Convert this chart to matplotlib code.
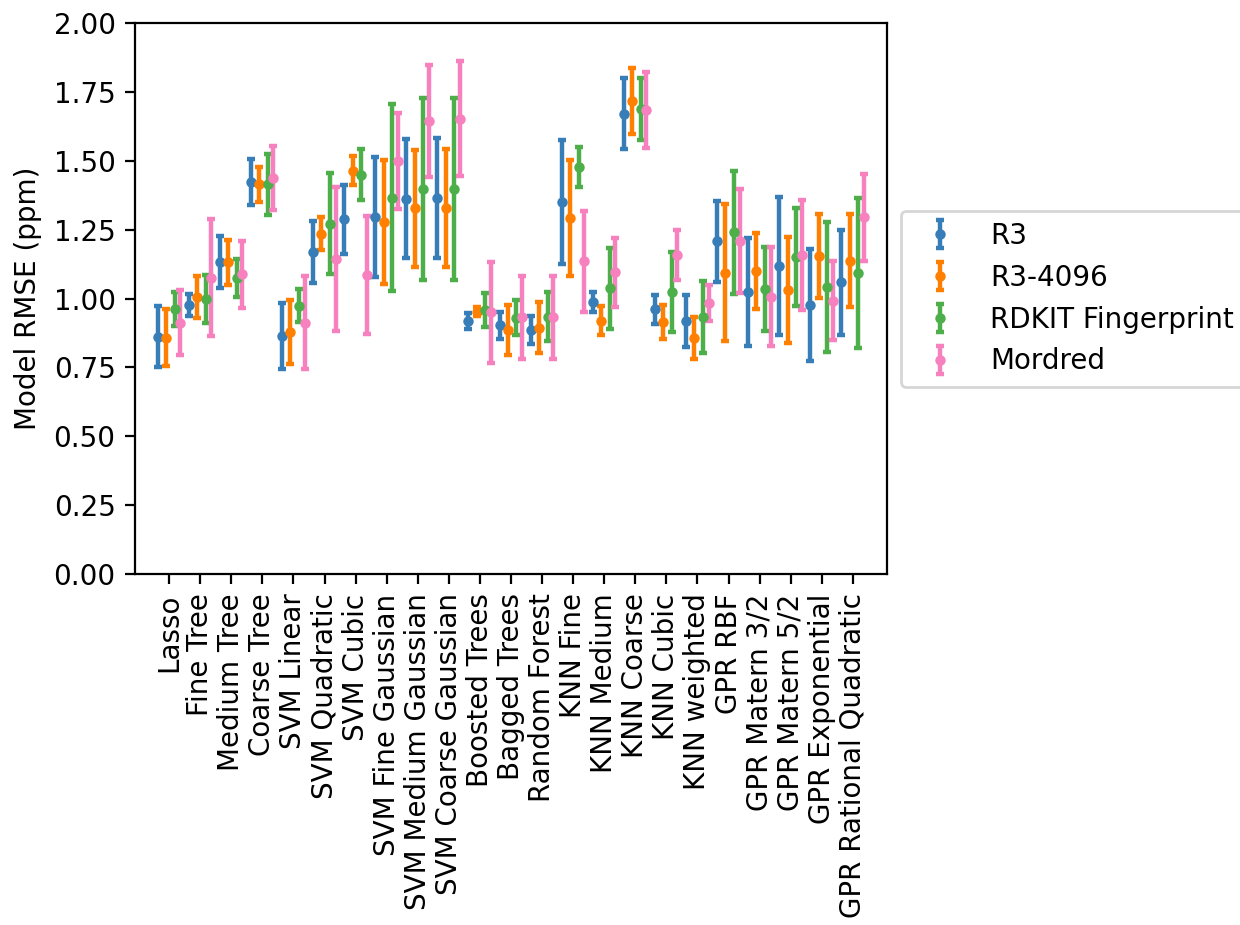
import matplotlib
matplotlib.use("Agg")
import matplotlib.pyplot as plt
import numpy as np

categories = ["Lasso", "Fine Tree", "Medium Tree", "Coarse Tree", "SVM Linear",
              "SVM Quadratic", "SVM Cubic", "SVM Fine Gaussian", "SVM Medium Gaussian",
              "SVM Coarse Gaussian", "Boosted Trees", "Bagged Trees", "Random Forest",
              "KNN Fine", "KNN Medium", "KNN Coarse", "KNN Cubic", "KNN weighted",
              "GPR RBF", "GPR Matern 3/2", "GPR Matern 5/2", "GPR Exponential",
              "GPR Rational Quadratic"]

series_names = ["R3", "R3-4096", "RDKIT Fingerprint", "Mordred"]

r3_mean = [0.862, 0.977, 1.132, 1.424, 0.864, 1.169, 1.288, 1.295, 1.363, 1.366,
           0.919, 0.903, 0.886, 1.350, 0.988, 1.672, 0.961, 0.920, 1.208, 1.024,
           1.119, 0.977, 1.059]
r3_err = [0.110, 0.039, 0.095, 0.083, 0.121, 0.112, 0.125, 0.218, 0.215, 0.217,
          0.030, 0.050, 0.052, 0.225, 0.035, 0.130, 0.053, 0.094, 0.146, 0.197,
          0.250, 0.203, 0.190]

r3_4096_mean = [0.858, 1.006, 1.132, 1.415, 0.879, 1.236, 1.465, 1.277, 1.328, 1.329,
                0.953, 0.886, 0.895, 1.292, 0.920, 1.718, 0.916, 0.858, 1.094, 1.099,
                1.031, 1.155, 1.138]
r3_4096_err = [0.103, 0.078, 0.082, 0.064, 0.117, 0.059, 0.052, 0.225, 0.213, 0.214,
               0.016, 0.090, 0.092, 0.210, 0.053, 0.119, 0.062, 0.076, 0.248, 0.138,
               0.192, 0.153, 0.170]

rdkit_mean = [0.961, 0.999, 1.076, 1.415, 0.975, 1.272, 1.450, 1.366, 1.398, 1.398,
              0.959, 0.931, 0.935, 1.477, 1.037, 1.688, 1.024, 0.933, 1.241, 1.034,
              1.152, 1.043, 1.094]
rdkit_err = [0.062, 0.086, 0.069, 0.112, 0.060, 0.183, 0.092, 0.340, 0.330, 0.330,
             0.063, 0.064, 0.088, 0.073, 0.146, 0.112, 0.144, 0.130, 0.223, 0.153,
             0.177, 0.235, 0.272]

mordred_mean = [0.913, 1.076, 1.088, 1.439, 0.913, 1.144, 1.086, 1.500, 1.645, 1.654,
                0.950, 0.932, 0.932, 1.136, 1.096, 1.685, 1.160, 0.985, 1.209, 1.007,
                1.159, 0.993, 1.295]
mordred_err = [0.117, 0.212, 0.123, 0.117, 0.170, 0.263, 0.213, 0.173, 0.204, 0.210,
               0.182, 0.152, 0.150, 0.184, 0.125, 0.137, 0.091, 0.066, 0.188, 0.180,
               0.200, 0.142, 0.157]

means = [r3_mean, r3_4096_mean, rdkit_mean, mordred_mean]
errs = [r3_err, r3_4096_err, rdkit_err, mordred_err]
colors = ["#377eb8", "#ff7f00", "#4daf4a", "#f781bf"]
offsets = [-0.37, -0.10, 0.175, 0.357]

fig = plt.figure(figsize=(6.2, 4.625), dpi=200)
ax = fig.add_axes([135/1240, 1 - 574/925, (887-135)/1240, (574-23.3)/925])

x = np.arange(len(categories))
for m, e, c, off, name in zip(means, errs, colors, offsets, series_names):
    ax.errorbar(x + off, m, yerr=e, fmt='.', color=c, ecolor=c,
                elinewidth=1.6, capsize=1.4, capthick=1.6, markersize=5.5, label=name)

ax.set_xticks(x)
ax.set_xticklabels(categories, rotation=90)
ax.set_xlim(-1.1, 23.1)
ax.set_ylim(0, 2.0)
ax.set_yticks(np.arange(0, 2.01, 0.25))
ax.set_ylabel("Model RMSE (ppm)")
ax.legend(loc="center left", bbox_to_anchor=(1, 0.5))

fig.savefig("out.png", dpi=200)
